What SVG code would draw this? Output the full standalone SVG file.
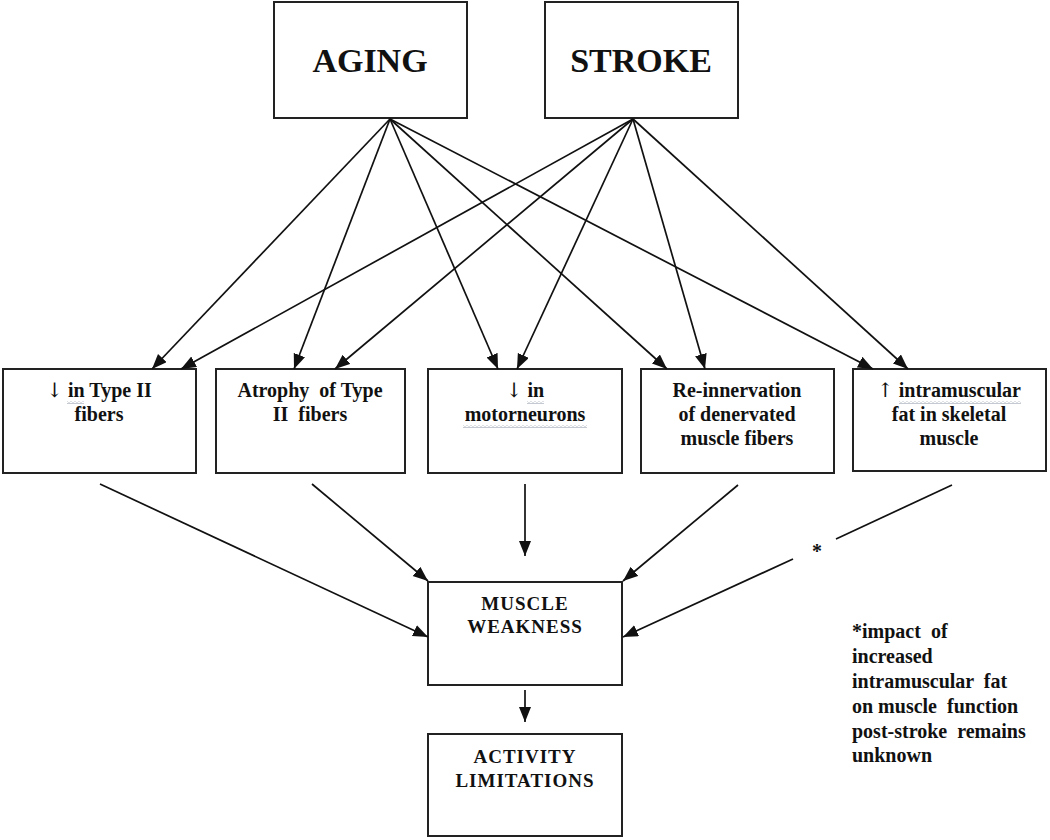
<svg xmlns="http://www.w3.org/2000/svg" width="1050" height="840" viewBox="0 0 1050 840">
<style>
.box{fill:#fff;stroke:#222;stroke-width:2}
.t{font-family:"Liberation Serif","Times New Roman",serif;font-weight:bold;fill:#111;text-anchor:middle}
.big{font-size:34px}
.mid{font-size:20px}
.cap{font-size:19px;letter-spacing:1px}
.note{font-family:"Liberation Serif","Times New Roman",serif;font-weight:bold;fill:#111;font-size:20px}
.sym{font-family:"DejaVu Serif","Liberation Serif",serif;font-weight:normal;fill:#111}
.c{fill:none;stroke:#111;stroke-width:1.7}
.sq{fill:url(#wave)}
</style>
<defs>
<marker id="ah" markerUnits="userSpaceOnUse" markerWidth="16" markerHeight="13" refX="15" refY="6" orient="auto">
<path d="M0,0 L15,6 L0,12 z" fill="#111"/>
</marker>
<pattern id="wave" patternUnits="userSpaceOnUse" width="4" height="3">
<path d="M0,1.5 Q1,0 2,1.5 T4,1.5" fill="none" stroke="#8a94a6" stroke-width="0.8"/>
</pattern>
</defs>
<rect width="1050" height="840" fill="#fff"/>

<g id="aging"><rect class="box" x="274" y="2" width="193" height="116"/><text class="t big" x="370" y="72">AGING</text></g>
<g id="stroke"><rect class="box" x="545" y="2" width="193" height="116"/><text class="t big" x="641" y="72">STROKE</text></g>

<g id="typeII-decrease"><rect class="box" x="3" y="369" width="193" height="104"/>
<text class="t mid" x="99" y="397"><tspan class="sym">↓</tspan> in Type II</text>
<text class="t mid" x="99" y="421">fibers</text>
<rect class="sq" x="67" y="401" width="17" height="3"/></g>

<g id="atrophy"><rect class="box" x="216" y="369" width="189" height="104"/>
<text class="t mid" x="310" y="397" xml:space="preserve">Atrophy  of Type</text>
<text class="t mid" x="310" y="421" xml:space="preserve">II  fibers</text></g>

<g id="motorneurons"><rect class="box" x="428" y="369" width="194" height="104"/>
<text class="t mid" x="525" y="397"><tspan class="sym">↓</tspan> in</text>
<text class="t mid" x="525" y="421">motorneurons</text>
<rect class="sq" x="527" y="401" width="17" height="3"/>
<rect class="sq" x="463" y="425" width="124" height="3"/></g>

<g id="reinnervation"><rect class="box" x="641" y="369" width="193" height="104"/>
<text class="t mid" x="737" y="397">Re-innervation</text>
<text class="t mid" x="737" y="421">of denervated</text>
<text class="t mid" x="737" y="445">muscle fibers</text></g>

<g id="intramuscular-fat"><rect class="box" x="853" y="369" width="193" height="102"/>
<text class="t mid" x="949" y="397"><tspan class="sym">↑</tspan> intramuscular</text>
<text class="t mid" x="949" y="421">fat in skeletal</text>
<text class="t mid" x="949" y="445">muscle</text>
<rect class="sq" x="899" y="401" width="122" height="3"/></g>

<g id="muscle-weakness"><rect class="box" x="428" y="582" width="194" height="103"/>
<text class="t cap" x="525" y="610">MUSCLE</text>
<text class="t cap" x="525" y="633">WEAKNESS</text></g>

<g id="activity-limitations"><rect class="box" x="428" y="734" width="194" height="102"/>
<text class="t cap" x="525" y="763">ACTIVITY</text>
<text class="t cap" x="525" y="787">LIMITATIONS</text></g>

<g id="footnote">
<text class="note" x="852" y="638" xml:space="preserve">*impact  of</text>
<text class="note" x="852" y="663">increased</text>
<text class="note" x="852" y="688" xml:space="preserve">intramuscular  fat</text>
<text class="note" x="852" y="713" xml:space="preserve">on muscle  function</text>
<text class="note" x="852" y="738" xml:space="preserve">post-stroke  remains</text>
<text class="note" x="852" y="762">unknown</text>
</g>

<g id="connectors">
<line class="c" x1="390" y1="119" x2="152" y2="369" marker-end="url(#ah)"/>
<line class="c" x1="390" y1="119" x2="294" y2="369" marker-end="url(#ah)"/>
<line class="c" x1="390" y1="119" x2="498" y2="369" marker-end="url(#ah)"/>
<line class="c" x1="390" y1="119" x2="667" y2="369" marker-end="url(#ah)"/>
<line class="c" x1="390" y1="119" x2="873" y2="369" marker-end="url(#ah)"/>
<line class="c" x1="633" y1="119" x2="181" y2="369" marker-end="url(#ah)"/>
<line class="c" x1="633" y1="119" x2="335" y2="369" marker-end="url(#ah)"/>
<line class="c" x1="633" y1="119" x2="517" y2="369" marker-end="url(#ah)"/>
<line class="c" x1="633" y1="119" x2="705" y2="369" marker-end="url(#ah)"/>
<line class="c" x1="633" y1="119" x2="908" y2="369" marker-end="url(#ah)"/>
<line class="c" x1="100" y1="484" x2="428" y2="637" marker-end="url(#ah)"/>
<line class="c" x1="312" y1="484" x2="428" y2="581" marker-end="url(#ah)"/>
<line class="c" x1="525" y1="484" x2="525" y2="556" marker-end="url(#ah)"/>
<line class="c" x1="738" y1="485" x2="623" y2="581" marker-end="url(#ah)"/>
<line class="c" x1="952" y1="485" x2="836" y2="539"/>
<line class="c" x1="793" y1="559" x2="623" y2="637" marker-end="url(#ah)"/>
<line class="c" x1="525" y1="690" x2="525" y2="722" marker-end="url(#ah)"/>
<text class="note" x="817" y="558" text-anchor="middle" font-weight="normal">*</text>
</g>
</svg>
